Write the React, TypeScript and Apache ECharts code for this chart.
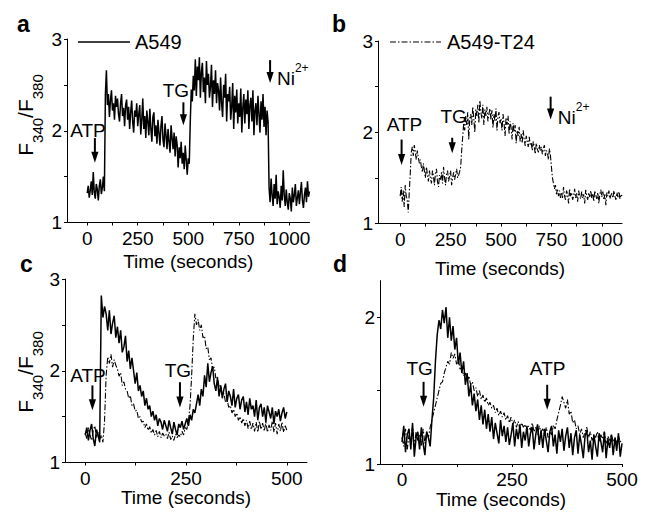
import React, { useEffect, useRef } from "react";
import * as echarts from "echarts";

const FONT = '"Liberation Sans", Arial, Helvetica, sans-serif';

// ---- data (ratio F340/F380), sampled at fixed steps from t = 0 s ----
const STEP_AB = 5; // seconds
const STEP_CD = 4; // seconds

const panelA_A549 = [
  1.32, 1.40, 1.27, 1.35, 1.45, 1.30, 1.55, 1.33, 1.26, 1.42,
  1.36, 1.24, 1.40, 1.47, 1.31, 1.38, 1.50, 1.34, 2.40, 2.66,
  2.28, 2.40, 2.15, 2.33, 2.44, 2.22, 2.30, 2.12, 2.38, 2.26,
  2.35, 2.18, 2.10, 2.30, 2.40, 2.16, 2.25, 2.05, 2.28, 2.34,
  2.12, 2.26, 2.02, 2.20, 2.33, 2.10, 1.98, 2.22, 2.15, 2.30,
  2.05, 2.18, 2.28, 1.96, 2.12, 2.35, 2.02, 2.16, 1.92, 2.22,
  2.10, 1.95, 2.24, 2.02, 1.88, 2.15, 2.20, 1.94, 2.06, 1.86,
  2.12, 1.98, 1.84, 2.05, 2.16, 1.90, 1.82, 2.08, 1.95, 1.80,
  2.02, 1.88, 1.76, 2.06, 1.92, 1.80, 1.98, 1.72, 1.94, 1.85,
  1.60, 1.82, 1.70, 1.88, 1.64, 1.76, 1.58, 1.84, 1.68, 1.52,
  1.70, 1.64, 2.10, 2.45, 2.32, 2.60, 2.44, 2.78, 2.38, 2.70,
  2.55, 2.80, 2.36, 2.64, 2.74, 2.42, 2.58, 2.30, 2.76, 2.50,
  2.62, 2.36, 2.48, 2.72, 2.26, 2.55, 2.40, 2.66, 2.30, 2.52,
  2.44, 2.22, 2.58, 2.30, 2.15, 2.50, 2.36, 2.62, 2.10, 2.40,
  2.32, 2.48, 2.12, 2.26, 2.52, 2.02, 2.38, 2.20, 2.45, 2.08,
  2.30, 2.15, 2.46, 1.98, 2.25, 2.40, 2.08, 2.34, 2.18, 2.44,
  2.02, 2.28, 2.36, 2.10, 2.44, 1.95, 2.22, 2.30, 2.06, 2.38,
  2.18, 1.98, 2.32, 2.12, 2.40, 2.04, 2.26, 1.95, 2.22, 2.10,
  1.38, 1.22, 1.48, 1.30, 1.18, 1.42, 1.26, 1.52, 1.20, 1.34,
  1.28, 1.16, 1.40, 1.24, 1.57, 1.30, 1.18, 1.36, 1.22, 1.14,
  1.32, 1.26, 1.12, 1.38, 1.22, 1.30, 1.42, 1.18, 1.27, 1.35,
  1.20, 1.33, 1.44, 1.24, 1.16, 1.30, 1.38, 1.22, 1.45, 1.28,
  1.34,
];

const panelB_T24 = [
  1.30, 1.40, 1.24, 1.36, 1.18, 1.42, 1.30, 1.26, 1.12, 1.34,
  1.55, 1.78, 1.84, 1.74, 1.86, 1.78, 1.70, 1.80, 1.72, 1.66,
  1.70, 1.62, 1.56, 1.66, 1.58, 1.50, 1.62, 1.54, 1.46, 1.58,
  1.50, 1.44, 1.58, 1.52, 1.42, 1.55, 1.60, 1.46, 1.40, 1.53,
  1.48, 1.56, 1.44, 1.62, 1.50, 1.42, 1.55, 1.58, 1.46, 1.52,
  1.58, 1.42, 1.50, 1.56, 1.48, 1.54, 1.60, 1.50, 1.53, 1.57,
  1.62, 1.80, 1.95, 2.10, 2.02, 2.18, 2.08, 2.22, 1.92, 2.15,
  2.20, 2.08, 2.28, 2.15, 2.00, 2.25, 2.18, 2.30, 2.10, 2.35,
  2.22, 2.15, 2.30, 2.08, 2.25, 2.18, 2.28, 2.12, 2.20, 2.26,
  2.14, 2.24, 2.05, 2.20, 2.12, 2.26, 2.02, 2.18, 2.22, 2.10,
  2.15, 2.02, 2.20, 2.10, 1.96, 2.16, 2.08, 2.18, 1.98, 2.12,
  2.05, 1.92, 2.10, 2.00, 2.08, 1.88, 2.02, 1.96, 2.06, 1.90,
  1.98, 1.88, 2.02, 1.92, 1.85, 1.96, 1.90, 1.84, 1.95, 1.86,
  1.88, 1.80, 1.90, 1.84, 1.76, 1.88, 1.82, 1.78, 1.86, 1.80,
  1.84, 1.76, 1.82, 1.86, 1.74, 1.80, 1.78, 1.70, 1.82, 1.75,
  1.62, 1.50, 1.44, 1.38, 1.42, 1.32, 1.38, 1.30, 1.36, 1.28,
  1.34, 1.28, 1.40, 1.30, 1.26, 1.36, 1.32, 1.22, 1.38, 1.30,
  1.34, 1.26, 1.30, 1.38, 1.28, 1.33, 1.24, 1.36, 1.30, 1.27,
  1.35, 1.28, 1.32, 1.22, 1.37, 1.30, 1.26, 1.34, 1.29, 1.36,
  1.28, 1.33, 1.24, 1.36, 1.31, 1.27, 1.34, 1.22, 1.32, 1.37,
  1.29, 1.35, 1.26, 1.32, 1.20, 1.34, 1.30, 1.36, 1.27, 1.31,
  1.33, 1.28, 1.36, 1.30, 1.26, 1.34, 1.29, 1.35, 1.27, 1.32,
  1.30,
];

const panelC_A549 = [
  1.30, 1.38, 1.24, 1.35, 1.42, 1.26, 1.18, 1.36, 1.30, 1.22,
  2.82, 2.58, 2.70, 2.62, 2.44, 2.66, 2.40, 2.52, 2.60, 2.36,
  2.48, 2.30, 2.44, 2.20, 2.26, 2.38, 2.10, 2.22, 2.02, 2.14,
  2.00, 1.86, 1.98, 1.78, 1.84, 1.72, 1.78, 1.62, 1.70, 1.58,
  1.62, 1.50, 1.56, 1.46, 1.52, 1.40, 1.48, 1.44, 1.36, 1.46,
  1.40, 1.34, 1.46, 1.38, 1.31, 1.44, 1.36, 1.30, 1.42, 1.38,
  1.45, 1.36, 1.42, 1.48, 1.40, 1.52, 1.46, 1.58, 1.54, 1.64,
  1.74, 1.62, 1.80, 1.72, 1.95, 1.82, 2.08, 1.88, 1.98, 2.05,
  1.86, 1.78, 1.92, 1.72, 1.84, 1.70, 1.80, 1.86, 1.66, 1.78,
  1.72, 1.62, 1.80, 1.60, 1.70, 1.74, 1.58, 1.68, 1.72, 1.55,
  1.66, 1.52, 1.70, 1.58, 1.62, 1.50, 1.68, 1.46, 1.60, 1.64,
  1.50, 1.60, 1.44, 1.62, 1.55, 1.48, 1.60, 1.42, 1.56, 1.50,
  1.58, 1.45, 1.54, 1.60, 1.48, 1.55,
];

const panelC_T24 = [
  1.32, 1.26, 1.38, 1.30, 1.24, 1.35, 1.40, 1.27, 1.33, 1.25,
  1.30, 1.22, 1.45, 1.95, 2.15, 2.08, 2.18, 2.04, 2.12, 2.06,
  2.02, 1.94, 1.98, 1.84, 1.88, 1.80, 1.78, 1.70, 1.73, 1.62,
  1.64, 1.56, 1.57, 1.48, 1.50, 1.44, 1.45, 1.38, 1.42, 1.35,
  1.39, 1.32, 1.36, 1.30, 1.35, 1.28, 1.34, 1.27, 1.32, 1.29,
  1.31, 1.26, 1.33, 1.25, 1.29, 1.24, 1.31, 1.27, 1.30, 1.28,
  1.34, 1.30, 1.38, 1.36, 1.45, 1.62, 1.95, 2.35, 2.62, 2.50,
  2.56, 2.44, 2.50, 2.36, 2.38, 2.24, 2.26, 2.12, 2.14, 2.02,
  2.04, 1.92, 1.94, 1.82, 1.84, 1.74, 1.75, 1.66, 1.68, 1.60,
  1.62, 1.54, 1.58, 1.50, 1.54, 1.46, 1.50, 1.43, 1.48, 1.40,
  1.46, 1.37, 1.45, 1.36, 1.43, 1.34, 1.44, 1.33, 1.45, 1.36,
  1.43, 1.34, 1.44, 1.33, 1.41, 1.35, 1.45, 1.33, 1.43, 1.31,
  1.42, 1.34, 1.44, 1.33, 1.40, 1.35,
];

const panelD_A549 = [
  1.15, 1.26, 1.08, 1.20, 1.24, 1.10, 1.28, 1.05, 1.18, 1.22,
  1.10, 1.25, 1.14, 1.06, 1.22, 1.18, 1.12, 1.30, 1.45, 1.70,
  1.88, 1.98, 1.92, 2.05, 1.96, 2.07, 1.86, 2.00, 1.84, 1.94,
  1.78, 1.86, 1.68, 1.76, 1.62, 1.70, 1.54, 1.62, 1.46, 1.54,
  1.40, 1.48, 1.36, 1.44, 1.30, 1.40, 1.27, 1.37, 1.24, 1.34,
  1.22, 1.32, 1.17, 1.28, 1.21, 1.14, 1.30, 1.19, 1.26, 1.15,
  1.25, 1.13, 1.20, 1.28, 1.12, 1.24, 1.17, 1.27, 1.11, 1.22,
  1.16, 1.26, 1.12, 1.21, 1.25, 1.10, 1.20, 1.27, 1.13, 1.23,
  1.11, 1.24, 1.16, 1.08, 1.22, 1.26, 1.12, 1.20, 1.07, 1.23,
  1.15, 1.24, 1.09, 1.19, 1.25, 1.11, 1.21, 1.06, 1.18, 1.23,
  1.07, 1.20, 1.13, 1.04, 1.19, 1.23, 1.08, 1.16, 1.03, 1.20,
  1.12, 1.05, 1.21, 1.15, 1.08, 1.22, 1.04, 1.17, 1.11, 1.20,
  1.06, 1.18, 1.09, 1.21, 1.05, 1.14,
];

const panelD_T24 = [
  1.18, 1.12, 1.24, 1.10, 1.20, 1.15, 1.26, 1.12, 1.22, 1.16,
  1.20, 1.12, 1.24, 1.14, 1.22, 1.18, 1.25, 1.30, 1.35, 1.40,
  1.45, 1.50, 1.55, 1.56, 1.62, 1.66, 1.70, 1.68, 1.76, 1.72,
  1.75, 1.68, 1.72, 1.64, 1.66, 1.60, 1.62, 1.56, 1.60, 1.54,
  1.56, 1.50, 1.52, 1.46, 1.50, 1.44, 1.47, 1.42, 1.45, 1.40,
  1.42, 1.38, 1.40, 1.35, 1.38, 1.33, 1.36, 1.32, 1.35, 1.30,
  1.33, 1.28, 1.32, 1.27, 1.30, 1.25, 1.29, 1.24, 1.28, 1.25,
  1.27, 1.22, 1.26, 1.23, 1.28, 1.22, 1.25, 1.20, 1.26, 1.22,
  1.24, 1.20, 1.25, 1.18, 1.22, 1.20, 1.26, 1.24, 1.30, 1.35,
  1.40, 1.46, 1.42, 1.38, 1.44, 1.34, 1.36, 1.28, 1.30, 1.24,
  1.26, 1.20, 1.24, 1.18, 1.22, 1.25, 1.18, 1.22, 1.16, 1.20,
  1.18, 1.22, 1.15, 1.20, 1.17, 1.22, 1.14, 1.19, 1.16, 1.20,
  1.15, 1.18, 1.14, 1.19, 1.15, 1.17,
];

// ---- ticks ----
const xTicksLong = [0, 125, 250, 375, 500, 625, 750, 875, 1000];
const xLabelsLong = [0, 250, 500, 750, 1000];
const xTicksShort = [0, 125, 250, 375, 500];
const xLabelsShort = [0, 250, 500];
const yTicks3 = [1, 1.5, 2, 2.5, 3];
const yLabels3 = [1, 2, 3];
const yTicksD = [1, 1.5, 2];
const yLabelsD = [1, 2];

// ---- legend names ----
const legendNames = ["A549", "A549-T24"];

// ---- annotations (data coordinates) ----
const annotations = [
  { grid: 0, text: "ATP", at: 38, from: 1.92, to: 1.65, lt: 3.5, lv: 2.0, align: "center" },
  { grid: 0, text: "TG", at: 476, from: 2.31, to: 2.06, lt: 439, lv: 2.44, align: "center" },
  { grid: 0, text: "Ni", sup: "2+", at: 905, from: 2.77, to: 2.52, lt: 939, lv: 2.61, align: "left" },
  { grid: 1, text: "ATP", at: 7, from: 1.92, to: 1.64, lt: 21, lv: 2.09, align: "center" },
  { grid: 1, text: "TG", at: 258, from: 1.94, to: 1.77, lt: 265, lv: 2.17, align: "center" },
  { grid: 1, text: "Ni", sup: "2+", at: 746, from: 2.39, to: 2.14, lt: 782, lv: 2.2, align: "left" },
  { grid: 2, text: "ATP", at: 18, from: 1.84, to: 1.57, lt: 7, lv: 1.95, align: "center" },
  { grid: 2, text: "TG", at: 235, from: 1.875, to: 1.6, lt: 230, lv: 2.0, align: "center" },
  { grid: 3, text: "TG", at: 49, from: 1.56, to: 1.39, lt: 40, lv: 1.654, align: "center" },
  { grid: 3, text: "ATP", at: 330, from: 1.54, to: 1.37, lt: 331, lv: 1.654, align: "center" },
];

const toPairs = (vals: number[], step: number) => vals.map((v, i) => [i * step, v]);

const black = "#000";
const DASH = [6, 2, 1.5, 2];
const SOLID_W = 1.5;
const DASH_W = 1.1;

function xAxis(gridIndex: number, min: number, max: number, ticks: number[], labels: number[], nameGap: number) {
  return {
    type: "value",
    gridIndex,
    min,
    max,
    axisLine: { show: true, onZero: false, lineStyle: { color: black, width: 1 } },
    axisTick: { show: true, length: 3, customValues: ticks, lineStyle: { color: black, width: 1 } },
    axisLabel: {
      customValues: labels,
      fontSize: 19,
      color: black,
      fontFamily: FONT,
      margin: 6,
      formatter: (v: number) => String(v),
    },
    splitLine: { show: false },
    name: "Time (seconds)",
    nameLocation: "middle",
    nameGap,
    nameTextStyle: { fontSize: 19, color: black, fontFamily: FONT },
  };
}

function yAxis(gridIndex: number, min: number, max: number, ticks: number[], labels: number[]) {
  return {
    type: "value",
    gridIndex,
    min,
    max,
    axisLine: { show: true, onZero: false, lineStyle: { color: black, width: 1 } },
    axisTick: { show: true, length: 3, customValues: ticks, lineStyle: { color: black, width: 1 } },
    axisLabel: {
      customValues: labels,
      fontSize: 19,
      color: black,
      fontFamily: FONT,
      margin: 5,
      formatter: (v: number) => String(v),
    },
    splitLine: { show: false },
  };
}

function lineSeries(name: string, idx: number, data: number[][], dashed: boolean, z: number) {
  return {
    type: "line",
    name,
    xAxisIndex: idx,
    yAxisIndex: idx,
    data,
    symbol: "none",
    showSymbol: false,
    silent: true,
    z,
    lineStyle: { color: black, width: dashed ? DASH_W : SOLID_W, type: dashed ? DASH : "solid" },
    itemStyle: { color: black },
  };
}

export default function App() {
  const ref = useRef<HTMLDivElement>(null);

  useEffect(() => {
    if (!ref.current) return;
    const chart = echarts.init(ref.current, undefined, { renderer: "svg" });
    chart.setOption({
      animation: false,
      backgroundColor: "#fff",
      grid: [
        { left: 67, top: 39, width: 242.5, height: 183.5 },
        { left: 378, top: 41, width: 244, height: 182.5 },
        { left: 65, top: 279, width: 242, height: 183.5 },
        { left: 380, top: 280.6, width: 242, height: 183.4 },
      ],
      xAxis: [
        xAxis(0, -100, 1100, xTicksLong, xLabelsLong, 29),
        xAxis(1, -110, 1100, xTicksLong, xLabelsLong, 35),
        xAxis(2, -50, 550, xTicksShort, xLabelsShort, 23),
        xAxis(3, -50, 500, xTicksShort, xLabelsShort, 25),
      ],
      yAxis: [
        yAxis(0, 1, 3, yTicks3, yLabels3),
        yAxis(1, 1, 3, yTicks3, yLabels3),
        yAxis(2, 1, 3, yTicks3, yLabels3),
        yAxis(3, 1, 2.25, yTicksD, yLabelsD),
      ],
      series: [
        lineSeries(legendNames[0], 0, toPairs(panelA_A549, STEP_AB), false, 3),
        lineSeries(legendNames[1], 1, toPairs(panelB_T24, STEP_AB), true, 3),
        lineSeries(legendNames[1], 2, toPairs(panelC_T24, STEP_CD), true, 2),
        lineSeries(legendNames[0], 2, toPairs(panelC_A549, STEP_CD), false, 3),
        lineSeries(legendNames[1], 3, toPairs(panelD_T24, STEP_CD), true, 2),
        lineSeries(legendNames[0], 3, toPairs(panelD_A549, STEP_CD), false, 3),
      ],
    });

    const g: any[] = [];
    // legends (line sample + name)
    const legends = [
      { x1: 78, x2: 130, y: 42, dashed: false, tx: 135, name: legendNames[0] },
      { x1: 390, x2: 441, y: 42, dashed: true, tx: 447, name: legendNames[1] },
    ];
    legends.forEach((l) => {
      g.push({
        type: "line", z: 10,
        shape: { x1: l.x1, y1: l.y, x2: l.x2, y2: l.y },
        style: { stroke: black, lineWidth: l.dashed ? 1.1 : 1.5, lineDash: l.dashed ? DASH : null },
      });
      g.push({
        type: "text", x: l.tx, y: l.y, z: 10,
        style: { text: l.name, font: `20px ${FONT}`, fill: black, align: "left", verticalAlign: "middle" },
      });
    });
    // panel letters
    const letters = [
      { t: "a", x: 17, y: 24 },
      { t: "b", x: 332, y: 24 },
      { t: "c", x: 20, y: 264 },
      { t: "d", x: 333, y: 264 },
    ];
    letters.forEach((l) =>
      g.push({
        type: "text", x: l.x, y: l.y, z: 10,
        style: { text: l.t, font: `bold 23px ${FONT}`, fill: black, align: "left", verticalAlign: "middle" },
      })
    );
    // y axis names
    const yName = {
      text: "{m|F}{s|340}{m|/F}{s|380}",
      rich: {
        m: { fontSize: 21, fontFamily: FONT, fill: black, lineHeight: 30, verticalAlign: "top" },
        s: { fontSize: 15, fontFamily: FONT, fill: black, lineHeight: 30, verticalAlign: "bottom" },
      },
    };
    [
      { x: 30, y: 115 },
      { x: 30, y: 372 },
    ].forEach((p) =>
      g.push({
        type: "text", x: p.x, y: p.y, rotation: Math.PI / 2, z: 10,
        style: { ...yName, align: "center", verticalAlign: "middle", fill: black },
      })
    );
    // arrows and labels
    annotations.forEach((a) => {
      const top = chart.convertToPixel({ gridIndex: a.grid }, [a.at, a.from]) as number[];
      const bot = chart.convertToPixel({ gridIndex: a.grid }, [a.at, a.to]) as number[];
      const lp = chart.convertToPixel({ gridIndex: a.grid }, [a.lt, a.lv]) as number[];
      const headH = 11;
      const headW = 3.6;
      g.push({
        type: "line", z: 10,
        shape: { x1: top[0], y1: top[1], x2: bot[0], y2: bot[1] - headH + 1 },
        style: { stroke: black, lineWidth: 2 },
      });
      g.push({
        type: "polygon", z: 10,
        shape: { points: [[bot[0] - headW, bot[1] - headH], [bot[0] + headW, bot[1] - headH], [bot[0], bot[1]]] },
        style: { fill: black },
      });
      if (a.sup) {
        g.push({
          type: "text", x: lp[0], y: lp[1], z: 10,
          style: {
            text: `{m|${a.text}}{p|${a.sup}}`,
            rich: {
              m: { fontSize: 19, fontFamily: FONT, fill: black, lineHeight: 26, verticalAlign: "bottom" },
              p: { fontSize: 12, fontFamily: FONT, fill: black, lineHeight: 26, verticalAlign: "top" },
            },
            align: "left", verticalAlign: "middle",
          },
        });
      } else {
        g.push({
          type: "text", x: lp[0], y: lp[1], z: 10,
          style: { text: a.text, font: `19px ${FONT}`, fill: black, align: "center", verticalAlign: "middle" },
        });
      }
    });
    chart.setOption({ graphic: g });

    return () => chart.dispose();
  }, []);

  return (
    <div
      ref={ref}
      style={{ position: "fixed", left: 0, top: 0, width: 650, height: 513, background: "#fff" }}
    />
  );
}
